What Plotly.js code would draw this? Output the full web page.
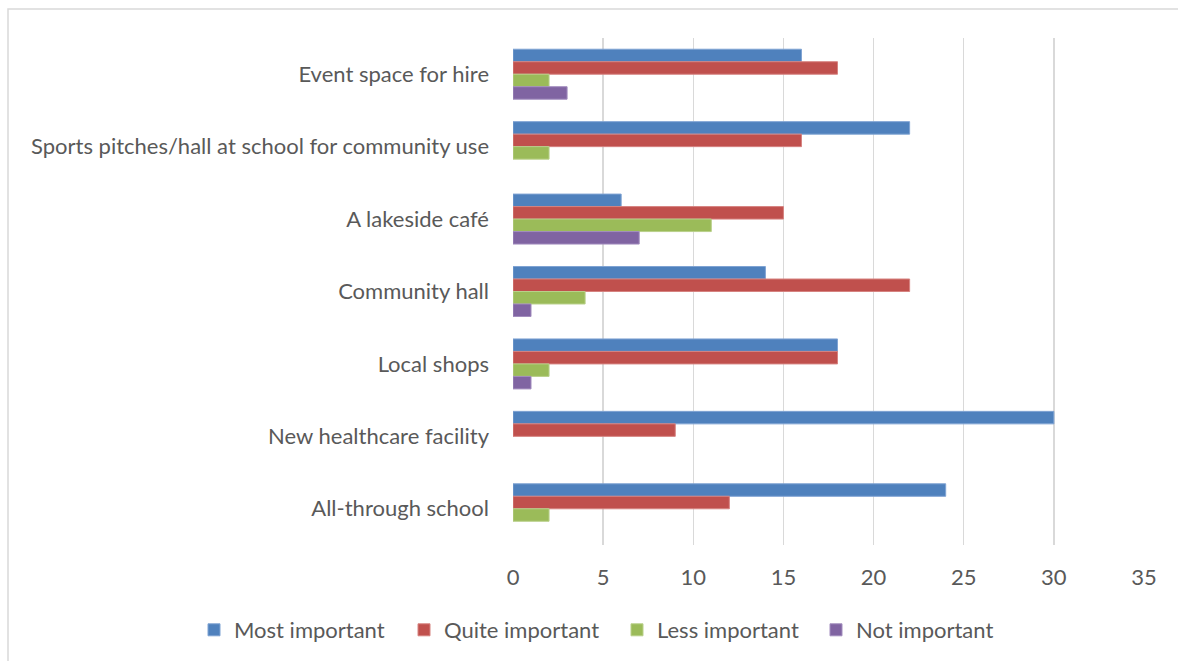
<!DOCTYPE html>
<html>
<head>
<meta charset="utf-8">
<script src="https://cdn.plot.ly/plotly-3.0.1.min.js"></script>
<style>
html,body{margin:0;padding:0;background:#fff;}
#chart{width:1178px;height:661px;}
</style>
</head>
<body>
<div id="chart"></div>
<script>
const categories = [
  "Event space for hire",
  "Sports pitches/hall at school for community use",
  "A lakeside café",
  "Community hall",
  "Local shops",
  "New healthcare facility",
  "All-through school"
];
const seriesNames = ["Most important", "Quite important", "Less important", "Not important"];
const mostImportant  = [16, 22, 6, 14, 18, 30, 24];
const quiteImportant = [18, 16, 15, 22, 18, 9, 12];
const lessImportant  = [2, 2, 11, 4, 2, 0, 2];
const notImportant   = [3, 0, 7, 1, 1, 0, 0];
const xTicks = [0, 5, 10, 15, 20, 25, 30, 35];

const colors = ["#4F81BD", "#C0504D", "#9BBB59", "#8064A2"];
const lineColors = ["#7FA3D3", "#D68380", "#B9D08A", "#A28DBE"];
const values = [mostImportant, quiteImportant, lessImportant, notImportant];
const legendIds = ["legend", "legend2", "legend3", "legend4"];
const legendLeftPx = [194, 404, 617, 816];

const font = "Lato, Open Sans, sans-serif";
const textColor = "#595959";
const fs = 22;

const traces = values.map((v, i) => ({
  type: "bar",
  orientation: "h",
  name: seriesNames[i],
  y: categories,
  x: v,
  legend: legendIds[i],
  marker: {color: colors[i], line: {color: lineColors[i], width: v.map(d => d === 0 ? 0 : 1)}},
  hoverinfo: "x+name"
}));

const L = 513, R = 1144, T = 38, B = 545;
const W = R - L, H = B - T;

const layout = {
  width: 1178,
  height: 661,
  margin: {l: L, r: 1178 - R, t: T, b: 661 - B, pad: 0},
  paper_bgcolor: "#ffffff",
  plot_bgcolor: "#ffffff",
  barmode: "group",
  bargap: 0.31,
  bargroupgap: 0,
  font: {family: font, color: textColor, size: fs},
  xaxis: {
    range: [0, 35],
    tickvals: xTicks,
    ticktext: xTicks.map(String),
    showgrid: true,
    gridcolor: "#D9D9D9",
    gridwidth: 1.3,
    zeroline: false,
    showline: false,
    ticks: "",
    ticklabelstandoff: 17,
    tickfont: {size: fs, color: textColor},
    fixedrange: true
  },
  yaxis: {
    type: "category",
    autorange: "reversed",
    showgrid: false,
    zeroline: false,
    showline: false,
    ticks: "",
    ticklabelstandoff: 23,
    tickfont: {size: fs, color: textColor},
    fixedrange: true
  },
  showlegend: true,
  shapes: [{
    type: "rect",
    xref: "paper", yref: "paper",
    x0: (8 - L) / W, x1: (1200 - L) / W,
    y0: (B - 690) / H, y1: (B - 9) / H,
    line: {color: "#D9D9D9", width: 1.5},
    fillcolor: "rgba(0,0,0,0)",
    layer: "below"
  }]
};

legendIds.forEach((id, i) => {
  layout[id] = {
    orientation: "h",
    xref: "container",
    yref: "container",
    x: legendLeftPx[i] / 1178,
    xanchor: "left",
    y: 1 - 630 / 661,
    yanchor: "middle",
    font: {size: fs, color: textColor},
    itemwidth: 30,
    bgcolor: "rgba(0,0,0,0)"
  };
});

Plotly.newPlot("chart", traces, layout, {displayModeBar: false, staticPlot: true});
</script>
</body>
</html>
